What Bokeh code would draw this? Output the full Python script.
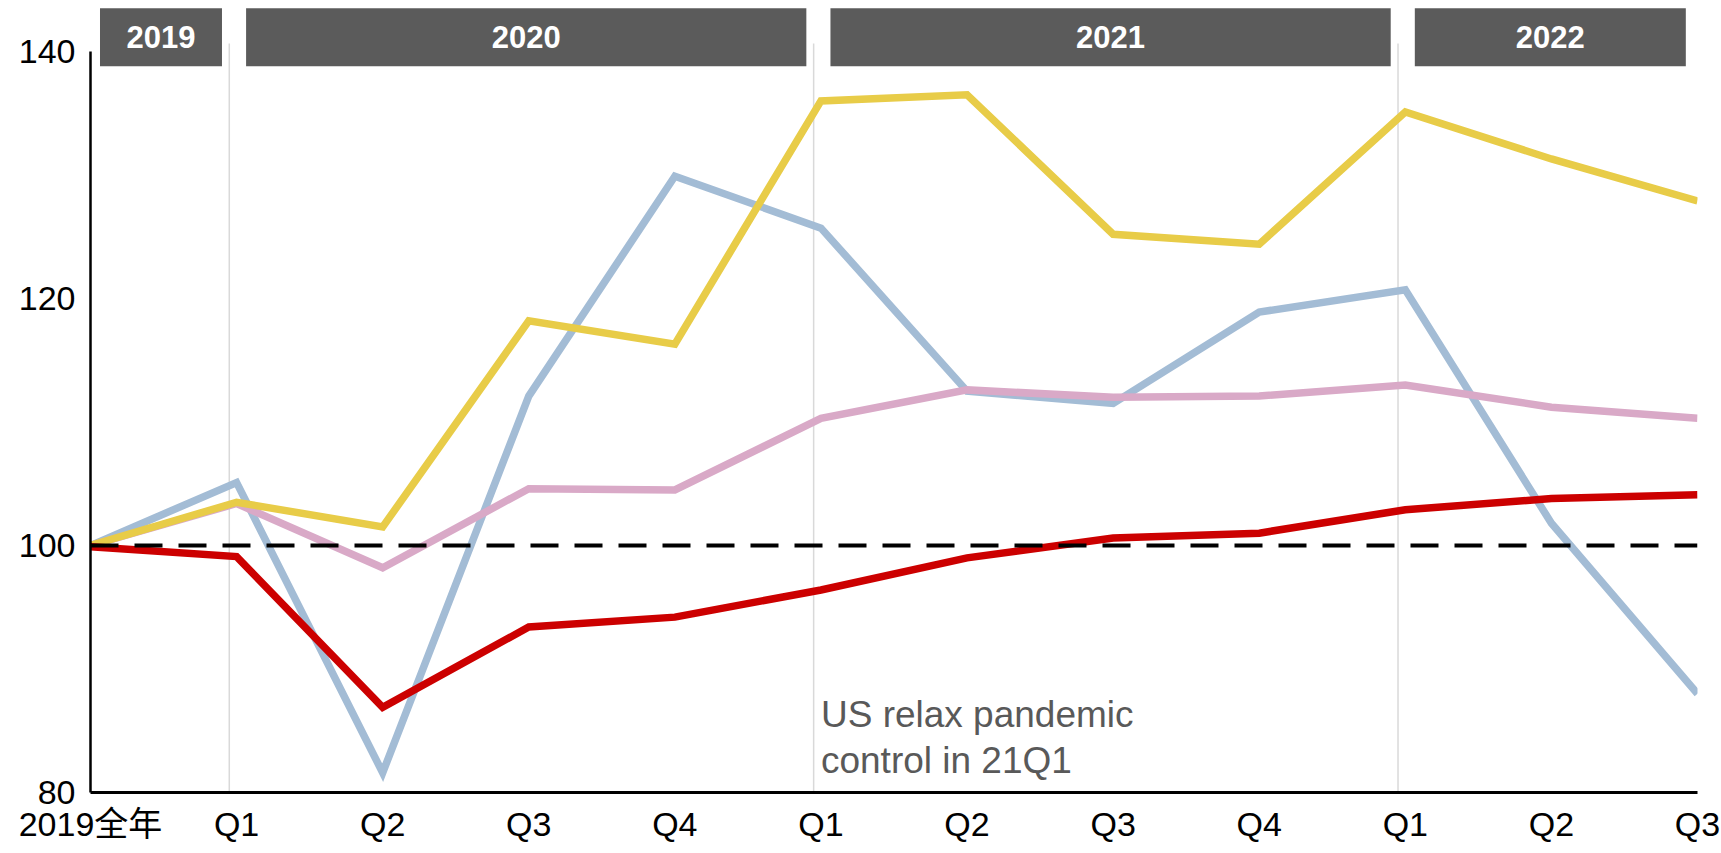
from bokeh.plotting import figure
from bokeh.models import FixedTicker, Range1d, ColumnDataSource
from bokeh.core.properties import value
from bokeh.embed import file_html
from bokeh.resources import INLINE

# Period labels along the x axis (index 0 = full-year 2019 baseline)
period_labels = ["2019全年", "Q1", "Q2", "Q3", "Q4", "Q1", "Q2", "Q3", "Q4", "Q1", "Q2", "Q3"]

# Index values, 2019 = 100
yellow_series = [100, 103.5, 101.5, 118.2, 116.3, 136.0, 136.5, 125.2, 124.4, 135.1, 131.3, 127.9]
blue_series = [100, 105.1, 81.6, 112.1, 129.9, 125.7, 112.5, 111.5, 118.9, 120.7, 101.8, 88.0]
pink_series = [100, 103.4, 98.2, 104.6, 104.5, 110.3, 112.6, 112.0, 112.1, 113.0, 111.2, 110.3]
red_series = [99.9, 99.1, 86.9, 93.4, 94.2, 96.4, 99.0, 100.6, 101.0, 102.9, 103.8, 104.1]

# Year header bands: label, first period index, index where the next year starts
years = ["2019", "2020", "2021", "2022"]
year_start = [0, 1, 5, 9]
year_end = [1, 5, 9, 11]

baseline = 100
y_ticks = [80, 100, 120, 140]

FONT = "'Liberation Sans', Arial, 'Noto Sans CJK SC', sans-serif"

x = list(range(len(period_labels)))

p = figure(
    width=1721, height=853,
    x_range=Range1d(0, len(period_labels) - 1),
    y_range=Range1d(80, 144.13),
    output_backend="svg", toolbar_location=None,
    min_border_left=90, min_border_right=24,
    min_border_top=0, min_border_bottom=61,
)
p.outline_line_color = None
p.background_fill_color = "white"
p.border_fill_color = "white"
p.xgrid.visible = False
p.ygrid.visible = False

# Year separators (thin grey verticals just left of each year's first quarter)
sep_x = [s - 0.05 for s in year_start[1:]]
p.segment(x0=sep_x, y0=[80] * len(sep_x), x1=sep_x, y1=[140.65] * len(sep_x),
          line_color="#D9D9D9", line_width=1.5)

# Year header bands
band_bottom, band_top = 138.8, 143.5
lefts = [s + 0.065 for s in year_start]
rights = [e - 0.1 if e < len(period_labels) - 1 else e - 0.08 for e in year_end]
band_src = ColumnDataSource(dict(
    left=lefts, right=rights,
    bottom=[band_bottom] * len(years), top=[band_top] * len(years),
    xc=[(l + r) / 2 for l, r in zip(lefts, rights)],
    yc=[(band_bottom + band_top) / 2] * len(years),
    label=years,
))
p.quad(left="left", right="right", bottom="bottom", top="top", source=band_src,
       fill_color="#5B5B5B", line_color=None)
p.text(x="xc", y="yc", text="label", source=band_src,
       text_color="white", text_font=value(FONT), text_font_style="bold",
       text_font_size="31px", text_align="center", text_baseline="middle")

# Series lines
for series, color in [
    (blue_series, "#A3BCD5"),
    (pink_series, "#D9A9C7"),
    (yellow_series, "#E8CC48"),
    (red_series, "#CC0000"),
]:
    p.line(x, series, line_color=color, line_width=7.5, line_join="miter")

# Baseline at 100
p.line([x[0], x[-1]], [baseline, baseline], line_color="black",
       line_width=4, line_dash="28 16")

# Annotation
p.text(x=[5.0, 5.0], y=[86.3, 82.6],
       text=["US relax pandemic", "control in 21Q1"],
       text_color="#595959", text_font=value(FONT), text_font_size="37px",
       text_align="left", text_baseline="alphabetic")

# Axes
yax = p.yaxis[0]
yax.ticker = FixedTicker(ticks=y_ticks)
yax.bounds = (80, 140)
yax.axis_line_width = 2.5
yax.axis_line_color = "black"
yax.major_tick_out = 0
yax.major_tick_in = 0
yax.minor_tick_out = 0
yax.minor_tick_in = 0
yax.major_label_standoff = 15
yax.major_label_text_font = FONT
yax.major_label_text_font_size = "34px"
yax.major_label_text_color = "black"

xax = p.xaxis[0]
xax.ticker = FixedTicker(ticks=x)
xax.major_label_overrides = {i: lab for i, lab in zip(x, period_labels)}
xax.axis_line_width = 3
xax.axis_line_color = "black"
xax.major_tick_out = 0
xax.major_tick_in = 0
xax.minor_tick_out = 0
xax.minor_tick_in = 0
xax.major_label_standoff = 12
xax.major_label_text_font = FONT
xax.major_label_text_font_size = "34px"
xax.major_label_text_color = "black"

open("out.html", "w").write(file_html(p, INLINE))
